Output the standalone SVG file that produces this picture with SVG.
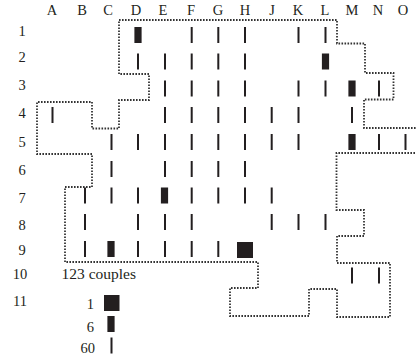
<svg xmlns="http://www.w3.org/2000/svg" xmlns:xlink="http://www.w3.org/1999/xlink" width="416" height="358" viewBox="0 0 416 358">
<style>
text{font-family:"Liberation Serif","Times New Roman",serif;font-size:14.5px;fill:#231f20}
.col{text-anchor:middle}
.row{text-anchor:middle}
.lg{text-anchor:end}
.m{fill:#231f20}
.bnd{fill:none;stroke:#333;stroke-width:1.8;stroke-dasharray:1.6 1.4}
</style>
<defs>
<rect id="t" class="m" x="-1" y="-8" width="2" height="16"/>
<rect id="b" class="m" x="-3.6" y="-8" width="7.2" height="16"/>
<rect id="s" class="m" x="-8" y="-8" width="16" height="16"/>
</defs>
<rect width="416" height="358" fill="#fff"/>
<g id="column-labels">
<text class="col" x="52" y="15">A</text>
<text class="col" x="82" y="15">B</text>
<text class="col" x="108" y="15">C</text>
<text class="col" x="136" y="15">D</text>
<text class="col" x="163" y="15">E</text>
<text class="col" x="191" y="15">F</text>
<text class="col" x="218" y="15">G</text>
<text class="col" x="245" y="15">H</text>
<text class="col" x="272" y="15">J</text>
<text class="col" x="298" y="15">K</text>
<text class="col" x="325" y="15">L</text>
<text class="col" x="352" y="15">M</text>
<text class="col" x="378" y="15">N</text>
<text class="col" x="403" y="15">O</text>
</g>
<g id="row-labels">
<text class="row" x="22" y="36">1</text>
<text class="row" x="22" y="62">2</text>
<text class="row" x="22" y="90">3</text>
<text class="row" x="22" y="118">4</text>
<text class="row" x="22" y="147">5</text>
<text class="row" x="22" y="175">6</text>
<text class="row" x="22" y="203">7</text>
<text class="row" x="22" y="230">8</text>
<text class="row" x="22" y="255">9</text>
<text class="row" x="20" y="279">10</text>
<text class="row" x="20" y="306">11</text>
</g>
<g id="connectors">
<path class="bnd" d="M119,20 H337 V43.5 H365 V73 H393.5 V99.5 H364 V128 H420 V153 H336.5 V210 H364 V236 H337 V263 H390 V317 H337 V289 H309 V316 H230 V288 H258 V262 H65 V187 H92 V154 H37 V102 H92 V128.5 H119 V100 H149 V74 H119 Z"/>
</g>
<g id="row1">
<use xlink:href="#b" x="138" y="35"/>
<use xlink:href="#t" x="191.7" y="35"/>
<use xlink:href="#t" x="218.3" y="35"/>
<use xlink:href="#t" x="245" y="35"/>
<use xlink:href="#t" x="298.5" y="35"/>
<use xlink:href="#t" x="325.5" y="35"/>
</g>
<g id="row2">
<use xlink:href="#t" x="138" y="61.5"/>
<use xlink:href="#t" x="165" y="61.5"/>
<use xlink:href="#t" x="191.7" y="61.5"/>
<use xlink:href="#t" x="218.3" y="61.5"/>
<use xlink:href="#t" x="245" y="61.5"/>
<use xlink:href="#b" x="325.5" y="61.5"/>
</g>
<g id="row3">
<use xlink:href="#t" x="165" y="88.5"/>
<use xlink:href="#t" x="191.7" y="88.5"/>
<use xlink:href="#t" x="218.3" y="88.5"/>
<use xlink:href="#t" x="245" y="88.5"/>
<use xlink:href="#t" x="298.5" y="88.5"/>
<use xlink:href="#t" x="325.5" y="88.5"/>
<use xlink:href="#b" x="352" y="88.5"/>
<use xlink:href="#t" x="379" y="88.5"/>
</g>
<g id="row4">
<use xlink:href="#t" x="52.5" y="115"/>
<use xlink:href="#t" x="165" y="115"/>
<use xlink:href="#t" x="191.7" y="115"/>
<use xlink:href="#t" x="218.3" y="115"/>
<use xlink:href="#t" x="245" y="115"/>
<use xlink:href="#t" x="271.7" y="115"/>
<use xlink:href="#t" x="298.5" y="115"/>
<use xlink:href="#t" x="352" y="115"/>
</g>
<g id="row5">
<use xlink:href="#t" x="111.5" y="142"/>
<use xlink:href="#t" x="138" y="142"/>
<use xlink:href="#t" x="165" y="142"/>
<use xlink:href="#t" x="191.7" y="142"/>
<use xlink:href="#t" x="218.3" y="142"/>
<use xlink:href="#t" x="245" y="142"/>
<use xlink:href="#t" x="271.7" y="142"/>
<use xlink:href="#t" x="298.5" y="142"/>
<use xlink:href="#b" x="352" y="142"/>
<use xlink:href="#t" x="379" y="142"/>
<use xlink:href="#t" x="405.5" y="142"/>
</g>
<g id="row6">
<use xlink:href="#t" x="111.5" y="169"/>
<use xlink:href="#t" x="165" y="169"/>
<use xlink:href="#t" x="191.7" y="169"/>
<use xlink:href="#t" x="218.3" y="169"/>
<use xlink:href="#t" x="245" y="169"/>
</g>
<g id="row7">
<use xlink:href="#t" x="85" y="195.5"/>
<use xlink:href="#t" x="111.5" y="195.5"/>
<use xlink:href="#t" x="138" y="195.5"/>
<use xlink:href="#b" x="164.5" y="195.5"/>
<use xlink:href="#t" x="191.7" y="195.5"/>
<use xlink:href="#t" x="218.3" y="195.5"/>
<use xlink:href="#t" x="245" y="195.5"/>
<use xlink:href="#t" x="271.7" y="195.5"/>
</g>
<g id="row8">
<use xlink:href="#t" x="85" y="222"/>
<use xlink:href="#t" x="138" y="222"/>
<use xlink:href="#t" x="165" y="222"/>
<use xlink:href="#t" x="191.7" y="222"/>
<use xlink:href="#t" x="271.7" y="222"/>
<use xlink:href="#t" x="298.5" y="222"/>
<use xlink:href="#t" x="325.5" y="222"/>
</g>
<g id="row9">
<use xlink:href="#t" x="85" y="249"/>
<use xlink:href="#b" x="111" y="249"/>
<use xlink:href="#t" x="138" y="249"/>
<use xlink:href="#t" x="165" y="249"/>
<use xlink:href="#t" x="191.7" y="249"/>
<use xlink:href="#t" x="218.3" y="249"/>
<use xlink:href="#s" x="245" y="250"/>
</g>
<g id="row10">
<use xlink:href="#t" x="352" y="275.5"/>
<use xlink:href="#t" x="379" y="275.5"/>
</g>
<g id="legend">
<text x="61.5" y="279" style="font-size:15.5px">123 couples</text>
<rect class="m" x="104" y="295" width="15.5" height="16"/>
<use xlink:href="#b" x="111" y="324"/>
<use xlink:href="#t" x="111.5" y="345.5"/>
<text class="lg" x="94" y="309">1</text>
<text class="lg" x="94" y="332">6</text>
<text class="lg" x="95" y="353">60</text>
</g>
</svg>
